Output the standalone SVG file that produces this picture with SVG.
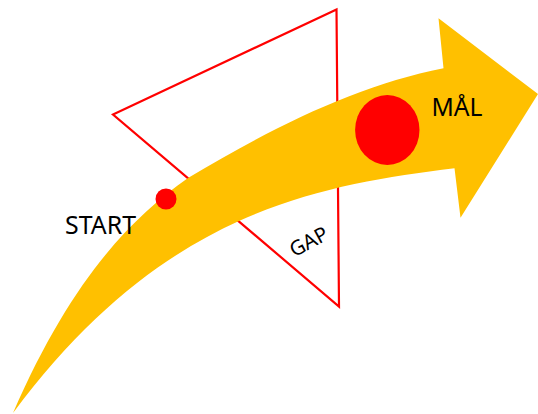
<svg xmlns="http://www.w3.org/2000/svg" width="538" height="414" viewBox="0 0 538 414">
<style>
.lbl{font-family:"Noto Sans","Open Sans","Liberation Sans",sans-serif;fill:#000;}
.red{fill:#FF0000;}
</style>
<rect width="538" height="414" fill="#FFFFFF"/>
<g id="gap-triangle">
<polygon points="336.5,9.5 113,114.5 339,306.5" fill="none" stroke="#FF0000" stroke-width="2.2"/>
</g>
<g id="arrow">
<path d="M13,413 C71,280 130,219 188,178 C273,127 358,85 443.5,68.3 L438.5,18.3 L538,94 L460.5,217.7 L454.5,168.3 C383,177 311,188.6 239,221 C164,255 88,312 13,413 Z" fill="#FFC000"/>
</g>
<g id="start">
<circle class="red" cx="166" cy="199" r="10.5"/>
<text class="lbl" x="65" y="234.3" font-size="24.5" textLength="71" lengthAdjust="spacingAndGlyphs">START</text>
</g>
<g id="goal">
<ellipse class="red" cx="387.3" cy="130" rx="32.2" ry="35"/>
<text class="lbl" x="431.5" y="116" font-size="25" textLength="51" lengthAdjust="spacingAndGlyphs">MÅL</text>
</g>
<g id="gap">
<text class="lbl" x="0" y="0" font-size="20.5" text-anchor="middle" transform="translate(312,248) rotate(-28)">GAP</text>
</g>
</svg>
